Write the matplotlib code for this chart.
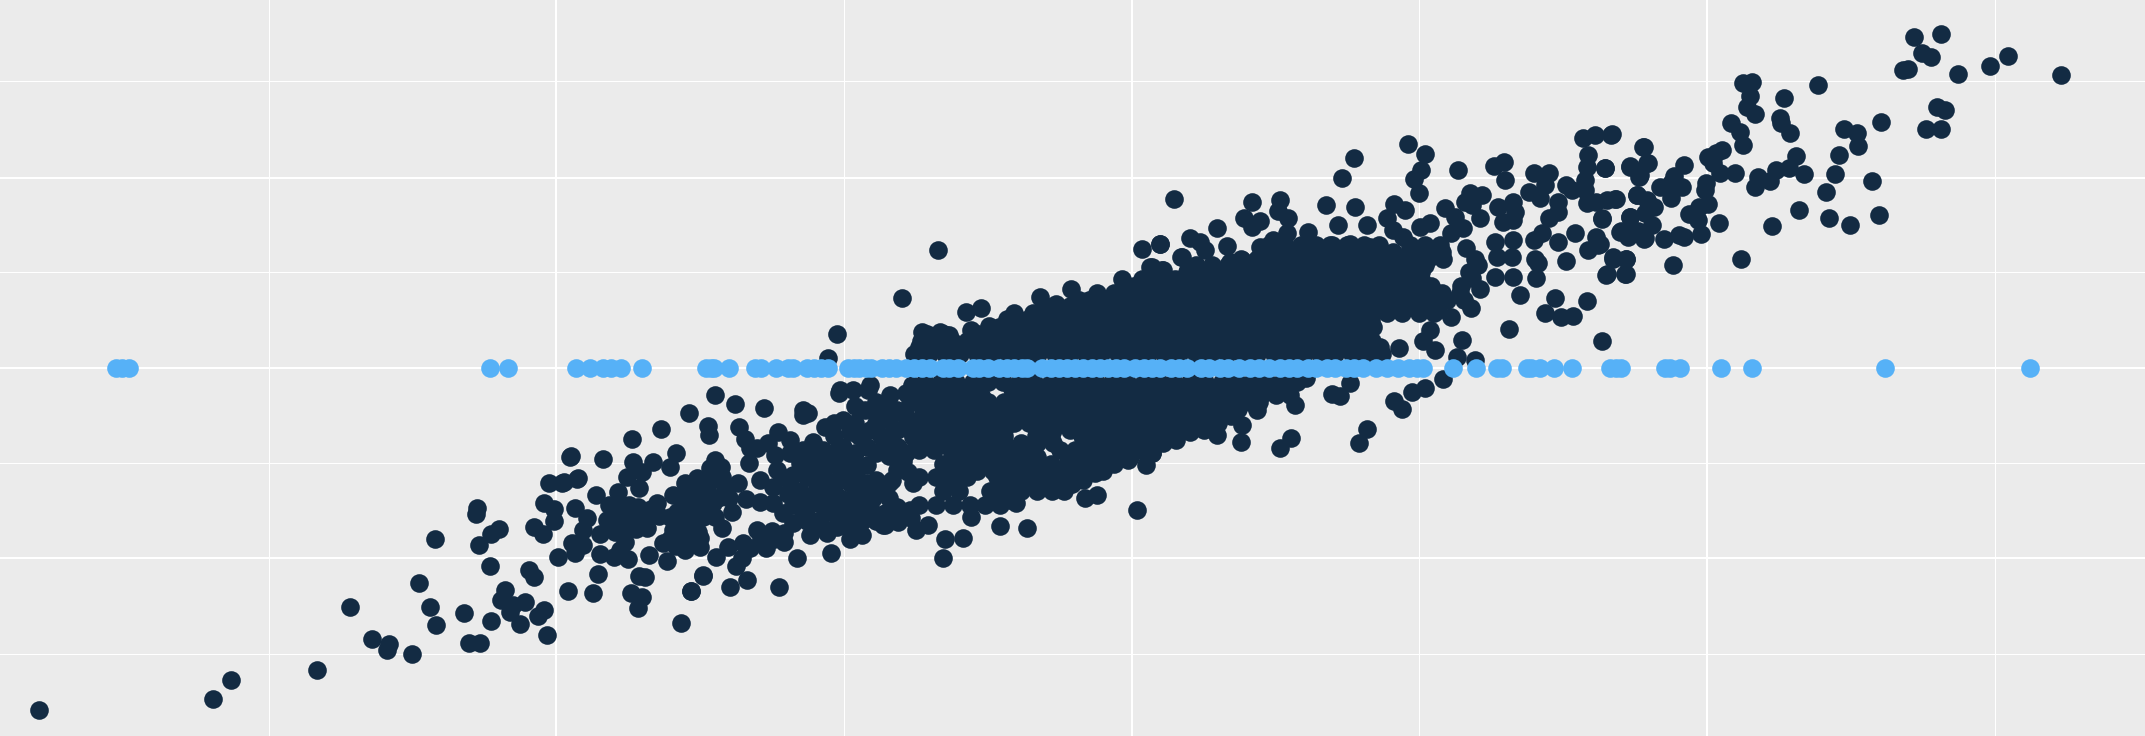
import numpy as np
import matplotlib
matplotlib.use("Agg")
import matplotlib.pyplot as plt

# Arbitrary linear units (no axis labels exist in the reference)
X_MAJOR = [406.7, 827.3, 1247.8]
X_MINOR = [196.3, 617, 1037.6, 1458.1]
Y_MAJOR = [-139, 0, 139.2]
Y_MINOR = [-209, -69.5, 70.2, 209.8]

blue_x = [85, 89, 94, 358, 371, 421, 431, 441, 447, 454, 469, 516, 520, 522, 533, 552, 556, 567, 576, 580,
          590, 595, 600, 605, 620, 624, 628, 633, 637, 645, 650, 655, 662, 668, 674, 680, 689, 694, 700,
          711, 716, 722, 730, 736, 741, 747, 751, 762, 768, 774, 780, 786, 792, 798, 804, 810, 816, 822,
          830, 836, 842, 848, 856, 862, 868, 878, 884, 892, 898, 906, 914, 920, 928, 936, 942, 948, 956,
          962, 970, 976, 984, 990, 996, 1006, 1014, 1022, 1030, 1036, 1040, 1062, 1079, 1094, 1098, 1116,
          1119, 1126, 1136, 1149, 1177, 1181, 1185, 1217, 1221, 1228, 1258, 1281, 1378, 1484]
blue_y = [0] * len(blue_x)

tail_low = [(28.5,-250),(156,-242),(169,-228),(232,-221),(256,-175),(272,-198),(284.5,-202),(283,-206),
    (301,-209),(306,-157),(314,-175),(319,-188),(318,-125),(339,-179),(343,-201),(351,-201),(349,-102),
    (348,-106.5),(350,-129.5),(359,-121),(365,-118),(358,-145),(359,-185),(369.5,-162),(366,-169.5),
    (373,-178.5),(375,-173),(384,-171),(380,-187),(393,-181),(398,-177),(400,-195.5),(387,-147.5),
    (390.6,-152.7),(390,-116),(397,-121),(398,-99),(405,-103),(405,-111.5),(401,-84),(411,-84),(422,-81),
    (417,-65),(408,-138.5)]

cluster_left = [(537.3,-26),(558.5,-29),(587.3,-30.7),(591,-33),(586.8,-34.4),(503.7,-33),(517.3,-42.4),
    (518.3,-49),(483,-44.9),(462.3,-52.2),(540.5,-43.4),(544.6,-52.2),(548.3,-58.8),(553.2,-58.8),
    (547.8,-69.2),(494.2,-61.9),(489.8,-72.2),(477.1,-69),(462.5,-69),(469,-75.8),(458.1,-80),(467.4,-88),
    (452,-90.4),(449.6,-100.2),(417.2,-64.4),(440.6,-66.5),(422.8,-80.7),(412.3,-83.6),(435.5,-92.9),
    (420.4,-102.6),(429.4,-110),(443.5,-111.1),(426,-118.4),(438.6,-121.4),(449.6,-119.7),(456.9,-127),
    (453.3,-133),(417.9,-128.2),(426.5,-129.4),(420.4,-135.5),(438.6,-136),(448.9,-138.4),(459.4,-139.9),
    (474.7,-136.7),(487.9,-140.9),(500.8,-133),(511.7,-131.1),(523.2,-137.9),(532.5,-130.6),(537.8,-144.8),
    (543.4,-128.2),(548.3,-131.9),(542.2,-139.2),(545.9,-155),(533.7,-160.4),(514.2,-151.3),(504.9,-163),
    (569.2,-160.4),(582.4,-139.2),(607.5,-135.5),(437.4,-150.6),(467.1,-151.8),(471.5,-153),(461.3,-164.7),
    (469.1,-167.7),(466.7,-175.7),(433.8,-164.7),(415.5,-162.8),(497.6,-186.7),(560,-131.9),(573.1,-127),
    (573.1,-120.9),(553.6,-118.4),(564.1,-118.9),(592.1,-122.1),(604.3,-120.9),(621.4,-125.3),(629.9,-122.1),
    (647,-114.8),(656.7,-112.4),(669.6,-118.4),(534.9,-105.5),(527.6,-116.7),(522.7,-108.7),(514.2,-108.7),
    (505.6,-118.4),(497.1,-120.9),(484.9,-128.2),(492.2,-118.4),(489.8,-108.7),(480,-99),(473.2,-117.2),
    (472.8,-109.9),(466.7,-101.4),(456.9,-106.3),(456.9,-116),(492.2,-92.9),(500.8,-84.3),(509.3,-80.7),
    (522.7,-67.3),(527.1,-72.6),(519,-73.4),(539.8,-84.3),(530,-88),(516.6,-89.2),(521.5,-99),(511.7,-99),
    (502,-102.6),(494.7,-105),(545.4,-96),(555.6,-81.9),(555.6,-97.7),(566.6,-63.6),(569,-46.6),(561.7,-55.1),
    (577.5,-52.7),(584.8,-69.7),(567.8,-74.6),(565.3,-86.8),(577.5,-89.2),(565.3,-99),(580,-113.6),
    (572.6,-106.3),(589.7,-108.7),(599.5,-111.1),(611.6,-116),(623.8,-111.1),(636,-101.4),(647,-106.3),
    (655.5,-101.4),(665.3,-103.8),(597,-99),(609.2,-101.4),(621.4,-99),(597,-86.8),(609.2,-86.8),(621.4,-84.3),
    (633.6,-84.3),(645.8,-89.2),(595.8,-72.2),(601.9,-60),(603.1,-43.4),(594.6,-53.9),(587.3,-60),
    (577.5,-62.4),(616.5,-38),(613.6,-18.5),(616.5,-57.5),(621.4,-46.6),(616.5,-69.7),(623.8,-72.2),(633.6,-70.9),
    (633.6,-57.5),(636,-45.3),(632.4,-30.7),(623.8,-16.1),(634.8,-16.1),(650.6,-19.8),(643.3,-33.2),(655.5,-30.7),
    (665.3,-25.9),(666.5,-12.5),(655.5,-45.3),(645.8,-57.5),(656.7,-57.5),(667.7,-50.2),(655.5,-74.6),(667.7,-84.3),
    (523,-20),(505,-163),(514,-152),(614,-16),(636,-12.4)]

cluster_extra = [(497,-110),(505,-112),(510,-120),(502,-126),(494,-130),(512,-124),(490,-125),(505,-90),(512,-88),
    (520,-82),(510,-92),(500,-95),(528,-80),(525,-95),(533,-95),(518,-105),(508,-105),(445,-100),(448,-108),
    (460,-100),(462,-110),(452,-112),(465,-118),(476,-103),(482,-108),(556,-125),(566,-125),(590,-95),(602,-95),
    (614,-95),(626,-95),(638,-95),(650,-95),(586,-103),(604,-105),(618,-105),(630,-105),
    (654,-106),(666,-110),(610,-90),(625,-90),(635,-90),(650,-84),(590,-80),(602,-80),(614,-80),(626,-78),
    (640,-82),(652,-82),(664,-76),(600,-70),(608,-70),(660,-68),(590,-62),(600,-66),(610,-62),(625,-62),
    (640,-62),(650,-64),(662,-62),(610,-50),(628,-50),(644,-50),(650,-50),(662,-44),(610,-40),(625,-40),
    (640,-40),(650,-38),(662,-36),(625,-28),(640,-25),(650,-28),(662,-18),(590,-112),(600,-115),(612,-108),
    (620,-116),(630,-112),(640,-112),(576,-92),(580,-100),(585,-90),(572,-80),(580,-78),(590,-72)]

above_bar = [(686,86),(659,51.5),(612,24.6),(605,7),(674,26),(687,26.6),(694,24),(706,41),(717,44),(709.6,28),
    (716,24),(723,31),(730,23),(736,36),(741,40.5),(745.6,31.5),(760,52),(755,40),(772,47),(783,57.5),(789,50),
    (820,65),(802,50),(835,87),(848,90.7),(840.6,74),(849.7,72),(863,81),(864,64),(820,56),(833,50),(840.6,50),
    (857.7,50)]

below_edge = [(645.7,-115),(678.6,-115),(691,-125),(704,-124.5),(689.6,-139),(709.6,-109),(731,-115.5),(751,-117),
    (742,-93),(743,-99),(738,-96.5),(793,-95),(801.6,-93),(831.4,-104),(792,-82),(800.4,-77),(795.6,-71),
    (758,-81),(769.5,-81),(780,-75),(837.7,-71),(824.8,-67),(842,-62.3),(814,-62.3),(803,-57.5),(860,-52.6),
    (870,-46.5),(876,-40.4),(845.5,-49),(853,-38),(864,-32),(872,-26),(841.8,-62.3),(844,-46.5),(851.6,-40.4),
    (889.3,-49),(907,-54),(935.6,-58.7),(943.7,-51.4),(907.6,-41.6),(918.6,-30.7),(923.4,-18.5),(896.6,-33),
    (889,-40.4),(947,-27),(943,-20),(935.6,-16),(954.6,-7.5),(973.4,-19),(979.5,-20.5),(987,-11),(993.6,-55),
    (999.5,-44.6),(1019,-24),(1025,-30),(1032,-17.3),(1041.6,-14.4),(1055,-8)]

upper_mid = [(1029.5,163.8),(1041.6,156.5),(1038.5,145),(1034,138),(1037.5,127.7),(990,153.5),(980.7,138.7),
    (858.4,123.3),(915.4,121.4),(935.6,122.8),(934.4,114.8),(909.6,109.4),(921,107.7),(915,103.3),(941.7,109.4),
    (889.3,102),(969,119),(990.5,117.5),(978,104.6),(999,104.6),(1019,120),(1027,115.5),(1013.6,110),(1018.5,101),
    (1066,145),(1092,147.7),(1099.4,150.9),(1100.3,137.4),(1121,142.3),(1132,142.3),(1129.4,133.8),(1117.6,129),
    (1125.7,124),(1145,133.8),(1149,130),(1157.4,168),(1166,170),(1178,170),(1161,155.7),(1160,147),(1173,146),
    (1158.6,137.4),(1158.6,130),(1201,161.8),(1191.5,147),(1198.8,141),(1203.6,149.6),(1196.4,126.5),(1180.5,123.3),
    (1167,121.6),(1160,120.4),(1139,121.6),(1139,114.3),(1132,109.4),(1106,121.6),(1095,118),(1107.4,114.3),
    (1082,109.4),(1074.5,127.7),(1071,121.6),(1083,126.5),(1076,119),(1106,108),(1099,107),(1056,116.7),
    (1063.5,110.6),(1069.6,102),(1171,109.4),(1191.5,110.6),(1184,99.7),(1194,98.5),(1202.4,94.8),(1167,96),
    (1168.4,90),(1161,86.3),(1151,98.5),(1139,92.4),(1127,98.5),(1121,93.6),(1106,93.6),(1093,92.4),(1105,81.4),
    (1094,81.4),(1122,80),(1124.5,76.5),(1145,78),(1179,80),(1188.6,80),(1174.4,68.5),(1188.6,68.5),(1123,65.6),
    (1106,66.8),(1093,66.8),(1111,53),(1136.6,51),(1129.3,40),(1141,37.5),(1150,38),(1160,48.8),(1103,28.5),
    (1171,19.8),(1082,58),(1075,43.6),(1061,37.5),(1051.4,42.4),(1067,54.6),(1068.4,20.5),(1045,28),(1040.4,20),
    (1049,13),(1023,14.4),(1008.7,15.6),(1065,7.8),(1078,6),(848,91),(870,94.8),(877,92.4),(881,86.3),(896.6,89),
    (899,77.7),(863.7,81.4),(850,72),(841.8,74),(868.6,71.7),(863.7,64.3),(880.8,69),(889,66.8),(907.6,79),
    (921,88.7),(930.8,93.6),(940.5,98.5),(956.3,99.7),(957.6,91),(972,90),(987,91),(1001.4,88.7),(1025.8,96),
    (1045,105.8),(1038,103.3),(1061,98.5),(1072,87.5),(1080.6,75.3),(1075.7,65.6)]

tail_high = [(1398.8,242),(1419,244),(1405,230),(1411.5,227),(1391.4,218),(1395,218.6),(1431,215),(1454.7,221),
    (1467.9,228),(1506.5,214),(1329,206.6),(1274.5,208.6),(1281,209),(1279,198.8),(1276.8,190.5),(1283,186),
    (1304,197.4),(1301,182.7),(1302,179),(1308.6,171.5),(1265.6,179),(1272,172.7),(1274,163),(1258.8,159),
    (1254.7,157),(1248.4,154),(1252,149.6),(1257.3,142.8),(1268.4,142.3),(1231,148.4),(1285,139.9),(1282.7,132),
    (1293.6,136.7),(1298.4,144.7),(1308,146),(1312.9,154.7),(1318.7,141.6),(1347.7,175),(1357.6,172),(1358,162.5),
    (1374.9,180),(1344,155.7),(1341.6,141.8),(1368.3,136.7),(1335,128.6),(1315,115.2),(1337.3,109.4),(1352,104.3),
    (1373.4,111.6),(1295,103.6),(1273,79.4),(1416,190.5),(1422,188.6),(1408,175),(1419,174.7),(1178.5,170.8),
    (1201.9,161.5),(1204.4,149.6),(1191.7,147.7),(1173.4,146),(1198.3,139.9),(1224,140.3),(1221.7,135),(1213.3,132.5),
    (1229.8,132),(1247,135.5),(1246,130),(1221.7,124.5),(1196.3,126.5),(1204,122.8),(1209,118),(1174.7,122.8),
    (1181,123.3),(1248.9,119.9),(1242,118),(1234.4,112.6),(1241.5,108.2),(1256.7,106),(1243.8,97.7),(1231,95.5),
    (1227.5,97.2),(1216.6,94.3),(1191.2,110.6),(1207.7,104.5),(1202.6,113),(1170.9,108.7),(1184.8,100),(1190.4,96),
    (1201.9,94),(1197.5,100),(1179.3,80.9),(1188.9,80),(1187.9,68.7),(1174.2,68),(1223,75),(1169.6,91)]

# dense core, read row by row
core_rows = {
    90: [928,939,951,962,974,985,997,1008,1031,1042,1053],
    85: [934,946,958,970,982,994,1006,1018,1030,1042,1054],
    80: [907,919,930,941,953,964,976,987,999,1010,1021,1033,1044,1055,1078],
    75: [874,886,898,910,922,934,946,958,970,982,994,1006,1018,1030,1042],
    70: [868,880,892,903,914,926,937,948,960,971,983,994,1005,1017,1028,1039,1074],
    65: [835,847,859,871,883,895,907,919,931,943,955,967,979,991,1003,1015,1027,1039],
    60: [829,841,852,863,875,886,898,909,921,932,943,955,966,978,989,1000,1012,1023,1035,1046,1068],
    55: [802,814,826,838,850,862,874,886,898,910,922,934,946,958,970,982,994,1006,1018,1030,1042,1054],
    50: [796,808,819,830,842,853,865,876,887,899,910,921,933,944,956,967,979,990,1001,1013,1024,1036,1047,1058,1070],
    45: [770,782,794,806,818,830,842,854,866,878,890,902,914,926,938,950,962,974,986,998,1010,1022,1034,1046],
    40: [762,774,785,797,808,820,831,842,854,865,877,888,899,911,922,934,945,957,968,979,991,1002,1014,1025,1037,1048],
    35: [738,750,762,774,786,798,810,822,834,846,858,870,882,894,906,918,930,942,954,966,978,990,1002],
    30: [730,741,753,764,776,787,798,810,821,833,844,856,867,878,890,901,913,924,935,947,958,970,981,993,1004],
    25: [678,690,715,736,748,760,772,784,796,808,820,832,844,856,868,880,892,904,916,928,940,952,964,976,988,1000],
    20: [673,684,696,707,719,730,742,753,765,776,788,799,810,822,833,845,856,868,879,890,902,913,925,936,947,959,970,982,993,1003],
    15: [672,684,696,708,720,732,744,756,768,780,792,804,816,828,840,852,864,876,888,900,912,924,936,948,960,972,984,996,1004],
    10: [668,679,691,702,714,725,737,748,759,771,782,794,805,817,828,839,851,862,874,885,897,908,919,931,942,953,965,976,988,999,1010],
    -10: [676,688,699,711,722,733,745,756,768,779,790,801,813,824,836,847,858,870,881,893,904,915,926,937,948],
    -15: [680,692,704,716,740,752,764,776,788,800,812,824,836,848,860,872,884,896,908,920,932,940],
    -20: [672,683,695,706,717,741,752,763,775,786,798,809,820,832,843,855,866,877,889,900,911,922,933],
    -25: [674,686,698,710,722,734,746,758,770,782,794,806,818,830,842,854,866,878,890,902,914,920],
    -30: [677,689,700,712,723,735,746,758,769,781,792,803,815,826,838,849,860,871,883,894,905],
    -35: [674,686,698,710,722,734,746,758,770,782,794,806,818,830,842,854,866,878,890,900],
    -40: [672,684,695,706,718,729,741,752,763,775,786,798,809,820,832,843,855,866,878,890],
    -45: [674,686,698,710,722,734,758,770,782,794,806,818,830,842,854,866,880],
    -50: [676,688,699,711,722,734,757,768,791,802,814,825,836,847,858],
    -55: [674,686,698,710,722,734,746,758,770,794,806,818,830,842,850],
    -60: [672,683,695,706,718,729,740,752,775,786,797,809,820,831],
    -65: [698,710,722,734,746,758,782,794,806,818,826],
    -70: [689,700,711,723,734,746,757,768,780,791,803,814],
    -75: [690,702,714,726,738,750,762,774,786,798,806],
    -80: [672,684,695,707,729,741,752,763,775,786],
    -85: [698,734,746,758,770,784],
    -90: [689,701,724,735,746,758,769,778],
    -100: [672,684,697,709,720,731],
}

dark = np.array(tail_low + cluster_left + cluster_extra + above_bar + below_edge + upper_mid + tail_high
                + [(x, y) for y, xs in core_rows.items() for x in xs], dtype=float)

fig = plt.figure(figsize=(21.45, 7.36), dpi=100, facecolor="#EBEBEB")
ax = fig.add_axes([0, 0, 1, 1], facecolor="#EBEBEB")
ax.set_xlim(0, 1568)
ax.set_ylim(-269, 269)
ax.set_xticks(X_MAJOR)
ax.set_xticks(X_MINOR, minor=True)
ax.set_yticks(Y_MAJOR)
ax.set_yticks(Y_MINOR, minor=True)
ax.tick_params(which="both", length=0, labelbottom=False, labelleft=False)
ax.grid(which="major", color="white", linewidth=1.5)
ax.grid(which="minor", color="white", linewidth=0.75)
ax.set_axisbelow(True)
for s in ax.spines.values():
    s.set_visible(False)

size = 180
ax.scatter(dark[:, 0], dark[:, 1], s=size, color="#132B43", linewidths=0, zorder=3)
ax.scatter(blue_x, blue_y, s=size, color="#56B1F7", linewidths=0, zorder=4)

fig.savefig("out.png", dpi=100, facecolor=fig.get_facecolor())
